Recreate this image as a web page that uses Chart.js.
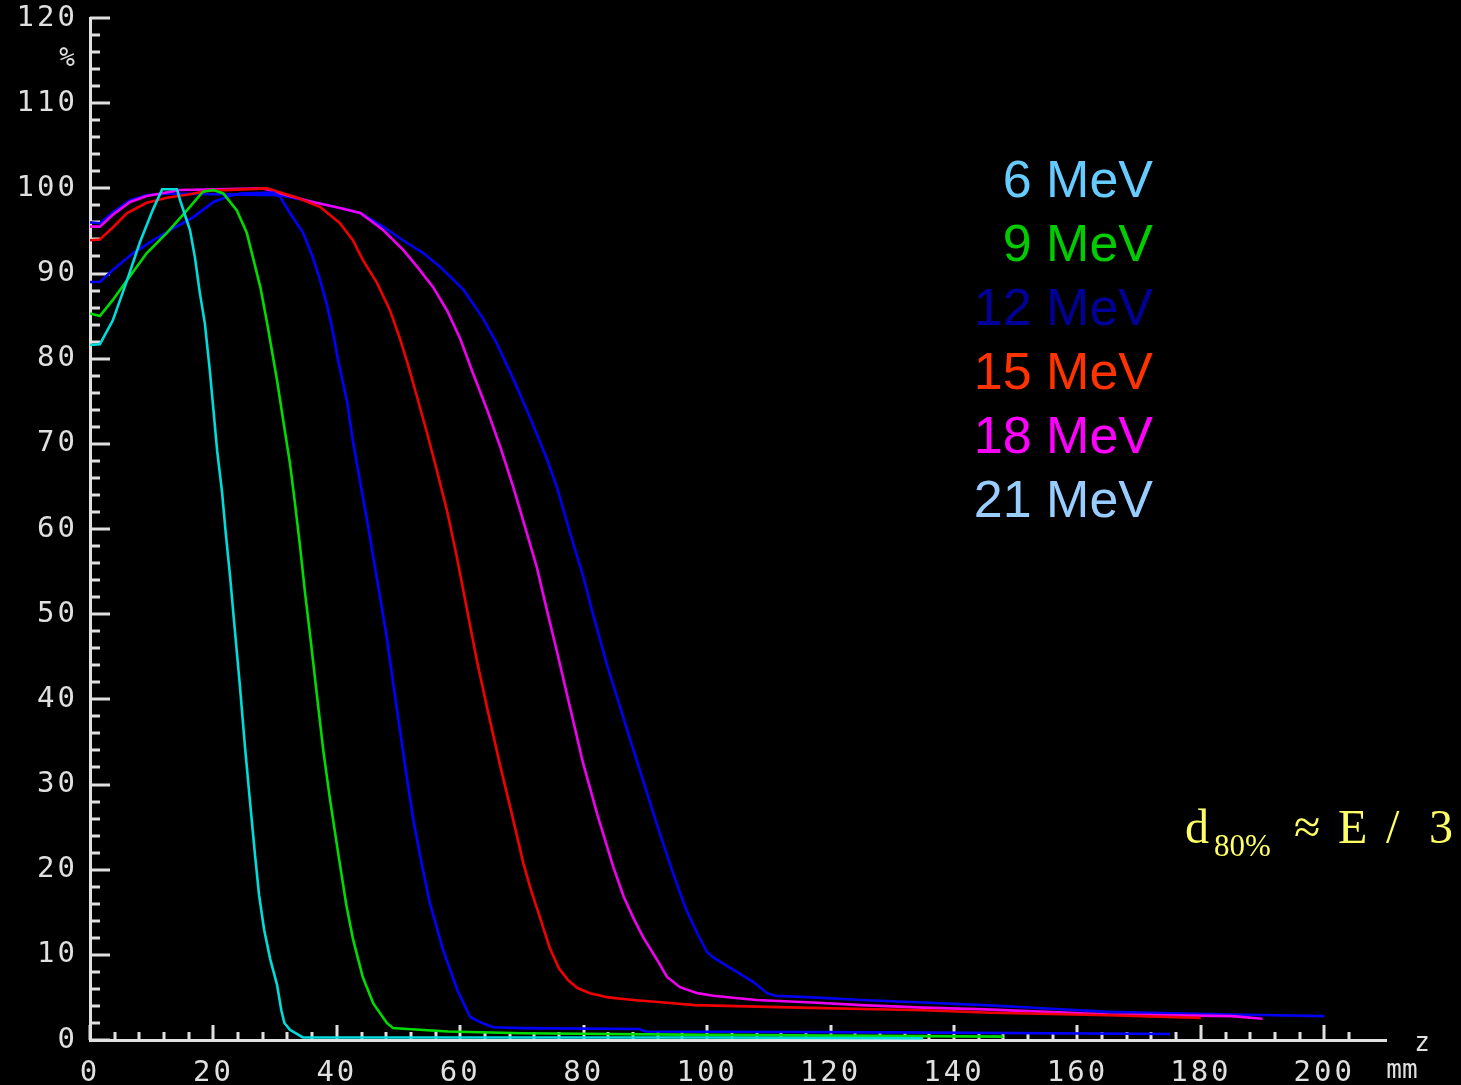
<!DOCTYPE html>
<html>
<head>
<meta charset="utf-8">
<script src="https://cdn.jsdelivr.net/npm/chart.js@4/dist/chart.umd.min.js"></script>
<style>
  html, body { margin: 0; padding: 0; background: #000; }
  #wrap { width: 1461px; height: 1085px; position: relative; }
</style>
</head>
<body>
<div id="wrap"><canvas id="depthDose" width="1461" height="1085"></canvas></div>
<script>
// depth (mm) / relative dose (%)
const labels = ["6 MeV", "9 MeV", "12 MeV", "15 MeV", "18 MeV", "21 MeV"];
const lineColors = ["#00dcdc", "#00dc00", "#0000ff", "#f00000", "#f000f0", "#0000f0"];
const legendColors = ["#66ccff", "#00cc00", "#000099", "#ff3300", "#ff00ff", "#99ccff"];

const depth6 = [0, 1.6, 3.7, 6.0, 8.1, 10.2, 11.7, 14.1, 14.6, 16.2, 17.0, 17.8, 18.6, 19.4, 20.0, 20.6, 21.4, 22.0, 22.7, 23.3, 24.3, 25.1, 25.9, 26.7, 27.4, 28.2, 29.2, 30.3, 31.0, 31.5, 32.4, 34.5, 60, 100, 135];
const dose6 = [81.6, 81.7, 84.5, 89.2, 93.7, 97.5, 99.9, 99.9, 98.6, 95.1, 91.9, 87.7, 84.2, 78.7, 74.0, 69.2, 64.3, 59.5, 54.4, 49.5, 41.5, 34.5, 28.2, 22.0, 17.0, 13.0, 9.5, 6.5, 3.5, 2.0, 1.2, 0.3, 0.3, 0.3, 0.2];

const depth9 = [0, 1.6, 3.7, 6.0, 9.2, 12.5, 15.7, 18.3, 20.0, 21.6, 23.8, 25.4, 26.4, 27.6, 28.7, 30.3, 31.3, 32.4, 33.2, 34.0, 34.8, 35.7, 36.8, 37.8, 38.9, 40.2, 41.5, 42.6, 44.2, 45.9, 48.1, 49.1, 51.4, 58, 70, 100, 148];
const dose9 = [85.3, 85.0, 86.9, 89.2, 92.4, 94.8, 97.4, 99.6, 99.8, 99.4, 97.4, 94.8, 91.9, 88.4, 84.2, 77.5, 72.8, 67.7, 63.1, 58.2, 52.8, 47.3, 40.3, 34.0, 28.2, 22.0, 16.0, 11.9, 7.4, 4.3, 2.0, 1.4, 1.3, 1.0, 0.8, 0.6, 0.4];

const depth12 = [0, 1.6, 3.7, 7.0, 10.2, 13.5, 16.7, 20.0, 22.2, 24.3, 29.7, 30.8, 32.4, 34.5, 36.1, 37.3, 38.4, 39.4, 40.2, 41.7, 42.6, 43.8, 44.9, 45.9, 47.0, 48.1, 49.1, 50.2, 51.4, 52.4, 53.8, 55.1, 57.2, 59.5, 61.6, 63.2, 65.3, 70, 89, 90, 130, 175];
const dose12 = [89.0, 89.0, 90.4, 92.4, 93.9, 95.3, 96.6, 98.4, 99.0, 99.4, 99.5, 99.0, 97.1, 94.8, 91.9, 89.2, 86.3, 83.0, 79.8, 74.8, 70.3, 65.4, 61.0, 56.7, 52.0, 47.2, 42.0, 36.5, 30.5, 25.8, 20.5, 16.0, 10.6, 5.9, 2.7, 2.1, 1.5, 1.4, 1.3, 1.0, 0.9, 0.7];

const depth15 = [0, 1.6, 3.7, 6.0, 9.2, 12.5, 16.2, 19.0, 28.7, 33.6, 37.3, 40.5, 42.6, 44.2, 46.5, 48.6, 50.2, 51.4, 53.0, 54.6, 56.2, 57.9, 59.5, 61.1, 62.7, 64.5, 66.5, 68.4, 70.2, 71.5, 72.9, 74.5, 76.0, 77.5, 79.0, 81.0, 84.0, 88, 93, 98, 115, 135, 146, 165, 180];
const dose15 = [93.9, 94.0, 95.4, 97.1, 98.3, 98.9, 99.3, 99.7, 100, 98.9, 97.8, 95.9, 93.9, 91.6, 88.9, 85.7, 82.4, 79.6, 75.5, 71.3, 66.9, 62.0, 56.5, 50.5, 44.5, 38.5, 32.1, 26.4, 20.8, 17.5, 14.4, 10.8, 8.4, 7.0, 6.1, 5.5, 5.0, 4.7, 4.4, 4.1, 3.8, 3.5, 3.2, 2.9, 2.6];

const depth18 = [0, 1.6, 3.7, 6.5, 9.2, 14.6, 28.0, 31.9, 36.1, 40.5, 43.8, 47.5, 50.7, 53.0, 55.6, 57.9, 60.0, 62.1, 64.3, 66.5, 68.6, 70.8, 72.4, 73.7, 75.7, 77.8, 79.9, 82.2, 84.8, 86.5, 88.0, 89.6, 91.9, 93.5, 95.6, 98.4, 101, 105, 108, 117, 125, 135, 145, 155, 165, 185, 190];
const dose18 = [95.5, 95.5, 96.9, 98.4, 99.1, 99.8, 100, 99.2, 98.4, 97.7, 97.1, 95.1, 92.8, 90.8, 88.4, 85.6, 82.3, 78.2, 74.1, 69.6, 64.9, 59.5, 55.5, 51.5, 45.5, 39.0, 32.5, 26.5, 20.3, 16.8, 14.4, 12.1, 9.4, 7.4, 6.2, 5.5, 5.2, 4.9, 4.7, 4.4, 4.1, 3.8, 3.6, 3.3, 3.0, 2.8, 2.5];

const depth21 = [0, 1.6, 3.7, 6.5, 9.2, 12.5, 30.8, 36.1, 40.5, 43.8, 47.5, 50.7, 54.0, 56.7, 60.5, 63.7, 65.9, 68.6, 71.3, 74.1, 75.7, 77.8, 79.9, 81.5, 83.8, 87.0, 89.6, 92.0, 94.5, 96.5, 98.4, 100, 101, 103, 105, 107.5, 109.7, 111, 117, 125, 135, 145, 155, 165, 185, 200];
const dose21 = [96.0, 95.9, 97.2, 98.6, 99.2, 99.4, 99.2, 98.4, 97.7, 97.1, 95.5, 93.9, 92.4, 90.8, 88.1, 84.7, 81.8, 77.6, 73.1, 68.1, 64.8, 59.5, 54.5, 50.0, 44.0, 36.5, 30.5, 25.0, 19.5, 15.5, 12.5, 10.3, 9.7, 8.8, 7.9, 6.8, 5.5, 5.2, 5.0, 4.7, 4.4, 4.1, 3.7, 3.3, 3.0, 2.8];

const depths = [depth6, depth9, depth12, depth15, depth18, depth21];
const doses = [dose6, dose9, dose12, dose15, dose18, dose21];

const axisColor = "#e0e0e0";
const monoFont = '"DejaVu Sans Mono", monospace';

// tick marks pointing into the plot, long ones on labelled values
const inwardTicks = {
    id: "inwardTicks",
    beforeDraw(chart) {
        chart.ctx.letterSpacing = "3px";
    },
    beforeDatasetsDraw(chart) {
        const ctx = chart.ctx;
        ctx.letterSpacing = "0px";
        const { x, y } = chart.scales;
        ctx.save();
        ctx.strokeStyle = axisColor;
        ctx.lineWidth = 3;
        ctx.beginPath();
        x.ticks.forEach(t => {
            if (t.value % 4 !== 0) return;
            const px = Math.round(x.getPixelForValue(t.value));
            const len = t.value % 20 === 0 ? 15 : 8;
            ctx.moveTo(px, y.bottom);
            ctx.lineTo(px, y.bottom - len);
        });
        y.ticks.forEach(t => {
            if (t.value % 2 !== 0) return;
            const py = Math.round(y.getPixelForValue(t.value));
            const len = t.value % 10 === 0 ? 20 : 10;
            ctx.moveTo(x.left, py);
            ctx.lineTo(x.left + len, py);
        });
        ctx.stroke();
        ctx.restore();
    }
};

// energy list, unit labels and the rule of thumb
const annotations = {
    id: "annotations",
    afterDraw(chart) {
        const ctx = chart.ctx;
        ctx.save();
        ctx.letterSpacing = "0px";
        ctx.textBaseline = "alphabetic";

        ctx.font = '52px "Liberation Sans", Arial, sans-serif';
        ctx.textAlign = "right";
        chart.data.datasets.forEach((ds, i) => {
            ctx.fillStyle = legendColors[i];
            ctx.fillText(ds.label, 1153, 197 + i * 64);
        });

        ctx.fillStyle = "#ffff66";
        ctx.textAlign = "left";
        ctx.font = '48px "Liberation Serif", "DejaVu Serif", serif';
        ctx.fillText("d", 1185, 843);
        ctx.fillText("\u2248", 1294, 843);
        ctx.fillText("E", 1338, 843);
        ctx.fillText("/", 1386, 843);
        ctx.fillText("3", 1429, 843);
        ctx.font = '31px "Liberation Serif", "DejaVu Serif", serif';
        ctx.fillText("80%", 1214, 856);

        ctx.fillStyle = axisColor;
        ctx.font = "26px " + monoFont;
        ctx.textAlign = "center";
        ctx.textBaseline = "middle";
        ctx.fillText("%", 67, 59);
        ctx.fillText("z", 1422, 1044);
        ctx.fillText("mm", 1402, 1071);
        ctx.restore();
    }
};

const datasets = labels.map((label, i) => ({
    label: label,
    data: depths[i].map((d, k) => ({ x: d, y: doses[i][k] })),
    borderColor: lineColors[i],
    backgroundColor: lineColors[i],
    borderWidth: 2.6,
    pointRadius: 0,
    tension: 0,
    fill: false,
}));

new Chart(document.getElementById("depthDose").getContext("2d"), {
    type: "line",
    data: { datasets: datasets },
    plugins: [inwardTicks, annotations],
    options: {
        responsive: false,
        animation: false,
        layout: { padding: { top: 18, right: 75, left: 0, bottom: 0 } },
        plugins: {
            legend: { display: false },
            tooltip: { enabled: false },
        },
        scales: {
            x: {
                type: "linear",
                min: 0,
                max: 210,
                grid: { display: false },
                border: { display: true, color: axisColor, width: 3 },
                ticks: {
                    stepSize: 4,
                    autoSkip: false,
                    maxRotation: 0,
                    padding: 8,
                    color: axisColor,
                    font: { family: monoFont, size: 29 },
                    callback: v => (v % 20 === 0 && v <= 200 ? String(v) : ""),
                },
                afterFit: s => {
                    s.height = 45;
                    s.paddingLeft = 0;
                    s.paddingRight = 0;
                },
            },
            y: {
                min: 0,
                max: 120,
                grid: { display: false },
                border: { display: true, color: axisColor, width: 3 },
                ticks: {
                    stepSize: 2,
                    autoSkip: false,
                    padding: 4,
                    color: axisColor,
                    font: { family: monoFont, size: 29 },
                    callback: v => (v % 10 === 0 ? String(v) : ""),
                },
                afterFit: s => {
                    s.width = 90;
                    s.paddingTop = 0;
                    s.paddingBottom = 0;
                },
            },
        },
    },
});
</script>
</body>
</html>
